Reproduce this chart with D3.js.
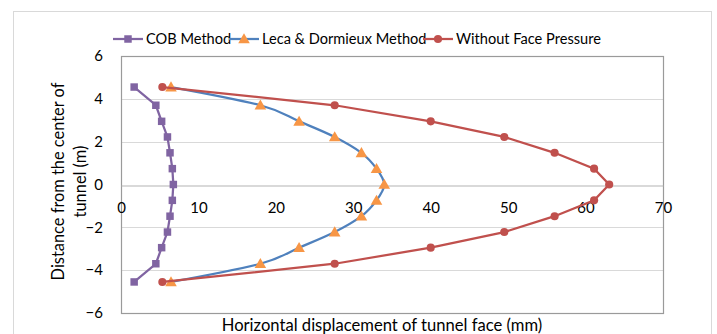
<!DOCTYPE html>
<html>
<head>
<meta charset="utf-8">
<script src="https://cdn.jsdelivr.net/npm/d3@7"></script>
<style>
  body { margin: 0; background: #fff; }
  svg text { font-family: Lato, 'Open Sans', sans-serif; fill: #000; }
</style>
</head>
<body>
<div id="main"></div>
<script>
// distance from the tunnel centre (m), shared by all three series
const depths = [4.55, 3.7, 2.95, 2.22, 1.48, 0.74, 0, -0.74, -1.48, -2.22, -2.95, -3.7, -4.55];
// horizontal displacement (mm) per series
const cobValues = [1.7, 4.5, 5.25, 6.0, 6.33, 6.63, 6.76, 6.63, 6.33, 6.0, 5.25, 4.5, 1.7];
const lecaValues = [6.46, 18.0, 23.0, 27.6, 31.05, 33.0, 34.0, 33.0, 31.05, 27.6, 23.0, 18.0, 6.46];
const noPressureValues = [5.34, 27.6, 40.0, 49.5, 56.0, 61.1, 63.05, 61.1, 56.0, 49.5, 40.0, 27.6, 5.34];
const xTicks = [0, 10, 20, 30, 40, 50, 60, 70];
const yTicks = [-6, -4, -2, 0, 2, 4, 6];
const seriesNames = ['COB Method', 'Leca & Dormieux Method', 'Without Face Pressure'];

function main() {
  const width = 717;
  const height = 334;
  // plot area
  const left = 121, right = 663, top = 56, bottom = 313;

  const svg = d3.select('#main').append('svg')
    .attr('width', width)
    .attr('height', height);

  // outer chart frame
  svg.append('rect')
    .attr('x', 13.5).attr('y', 11.5)
    .attr('width', 698).attr('height', 340)
    .attr('fill', 'none')
    .attr('stroke', '#d9d9d9');

  const xScale = d3.scaleLinear().domain([0, 70]).range([left, right]);
  const yScale = d3.scaleLinear().domain([-6, 6]).range([bottom, top]);

  // horizontal gridlines
  svg.append('g')
    .selectAll('line')
    .data(yTicks.filter(d => d !== 0 && d !== 6 && d !== -6))
    .enter().append('line')
    .attr('x1', left).attr('x2', right)
    .attr('y1', d => Math.round(yScale(d)) + 0.5)
    .attr('y2', d => Math.round(yScale(d)) + 0.5)
    .attr('stroke', '#d9d9d9')
    .attr('stroke-width', 1);

  // plot area border
  svg.append('rect')
    .attr('x', left + 0.5).attr('y', top + 0.5)
    .attr('width', right - left).attr('height', bottom - top)
    .attr('fill', 'none')
    .attr('stroke', '#9a9a9a')
    .attr('stroke-width', 1.2);

  // x axis crossing at y = 0
  const xAxis = d3.axisBottom(xScale)
    .tickValues(xTicks)
    .tickSize(0)
    .tickPadding(17);
  const gx = svg.append('g')
    .attr('transform', `translate(0, ${Math.round(yScale(0)) + 0.5})`)
    .call(xAxis);
  gx.select('.domain').attr('stroke', '#b3b3b3').attr('stroke-width', 1.2);
  gx.selectAll('text').style('font-size', '15px').attr('fill', '#000');

  const yAxis = d3.axisLeft(yScale)
    .tickValues(yTicks)
    .tickSize(0)
    .tickPadding(18);
  const gy = svg.append('g')
    .attr('transform', `translate(${left}, 0)`)
    .call(yAxis);
  gy.select('.domain').remove();
  gy.selectAll('text').style('font-size', '15px').attr('fill', '#000');

  const series = [
    { name: seriesNames[0], values: cobValues, line: '#8064a2', marker: '#8064a2', shape: 'square', curve: d3.curveLinear },
    { name: seriesNames[1], values: lecaValues, line: '#4f81bd', marker: '#f79646', shape: 'triangle', curve: d3.curveCardinal.tension(0) },
    { name: seriesNames[2], values: noPressureValues, line: '#c0504d', marker: '#c0504d', shape: 'circle', curve: d3.curveLinear }
  ];

  const symbolFor = {
    square: d3.symbol().type(d3.symbolSquare).size(56),
    triangle: d3.symbol().type(d3.symbolTriangle).size(58),
    circle: d3.symbol().type(d3.symbolCircle).size(52)
  };

  series.forEach(s => {
    const pts = s.values.map((v, i) => [v, depths[i]]);
    const line = d3.line()
      .x(d => xScale(d[0]))
      .y(d => yScale(d[1]))
      .curve(s.curve);
    svg.append('path')
      .attr('d', line(pts))
      .attr('fill', 'none')
      .attr('stroke', s.line)
      .attr('stroke-width', 2.25);
    svg.append('g')
      .selectAll('path')
      .data(pts)
      .enter().append('path')
      .attr('transform', d => `translate(${xScale(d[0])}, ${yScale(d[1]) + (s.shape === 'triangle' ? 1 : 0)})`)
      .attr('d', symbolFor[s.shape]())
      .attr('fill', s.marker);
  });

  // legend
  const legendX = [113, 229, 423];
  const legend = svg.append('g');
  series.forEach((s, i) => {
    const g = legend.append('g').attr('transform', `translate(${legendX[i]}, 39)`);
    g.append('line')
      .attr('x1', 0).attr('x2', 30)
      .attr('stroke', s.line).attr('stroke-width', 2.25);
    g.append('path')
      .attr('transform', `translate(15, ${s.shape === 'triangle' ? 1 : 0})`)
      .attr('d', symbolFor[s.shape]())
      .attr('fill', s.marker);
    g.append('text')
      .attr('x', 33)
      .attr('dy', '0.36em')
      .style('font-size', '14.6px')
      .text(s.name);
  });

  // y axis title
  const yTitle = svg.append('text')
    .attr('transform', `translate(71, ${(top + bottom) / 2 - 3}) rotate(-90)`)
    .style('text-anchor', 'middle')
    .style('font-size', '16.4px');
  yTitle.append('tspan').attr('x', 0).attr('dy', '-0.42em').text('Distance from the center of');
  yTitle.append('tspan').attr('x', 0).attr('dy', '1.35em').text('tunnel (m)');

  // x axis title
  svg.append('text')
    .attr('x', (left + right) / 2 - 10)
    .attr('y', 331)
    .style('text-anchor', 'middle')
    .style('font-size', '16.6px')
    .text('Horizontal displacement of tunnel face (mm)');
}

document.addEventListener('DOMContentLoaded', main);
</script>
</body>
</html>
